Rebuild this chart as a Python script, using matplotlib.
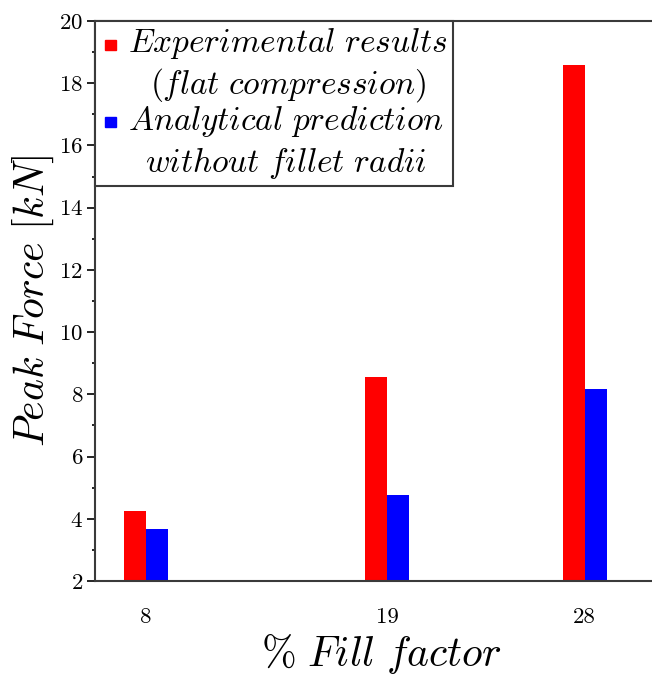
import matplotlib
matplotlib.use("Agg")
import matplotlib.pyplot as plt
from matplotlib.patches import Rectangle
from matplotlib.legend_handler import HandlerPatch

fill_factor = [8, 19, 28]
experimental = [4.25, 8.55, 18.6]
analytical = [3.66, 4.76, 8.16]
labels = [r'$Experimental\ results$' + '\n' + r'$(flat\ compression)$',
          r'$Analytical\ prediction$' + '\n' + r'$without\ fillet\ radii$']

plt.rcParams['font.family'] = 'serif'
plt.rcParams['font.serif'] = ['cmr10']
plt.rcParams['mathtext.fontset'] = 'cm'
plt.rcParams['axes.formatter.use_mathtext'] = True


def top_square(legend, orig_handle, xdescent, ydescent, width, height, fontsize):
    # put the marker next to the first line of a two-line label
    s = 0.31 * fontsize
    return Rectangle((0.15 * fontsize, 0.80 * fontsize), s * 1.1, s)


def main():
    fig = plt.figure(figsize=(6.52, 6.75), dpi=100)
    ax = fig.add_axes([0.1457, 0.1393, 0.877, 0.8296])
    w = 1.0
    ax.bar([x - w / 2 for x in fill_factor], experimental, width=w, color='#ff0000')
    ax.bar([x + w / 2 for x in fill_factor], analytical, width=w, color='#0000ff')
    ax.set_ylim(2, 20)
    ax.set_xlim(5.68, 31.74)
    ax.set_xticks(fill_factor)
    ax.set_xticklabels([str(x) for x in fill_factor])
    ax.set_yticks(range(2, 21, 2))
    ax.set_yticks(range(3, 20, 2), minor=True)
    ax.tick_params(axis='x', length=0, pad=19, labelsize=16.5)
    ax.tick_params(axis='y', which='major', length=5.5, width=1.2, pad=3, labelsize=16.5, direction='out')
    ax.tick_params(axis='y', which='minor', length=2.5, width=1.2, direction='out')
    for s in ['left', 'bottom', 'top']:
        ax.spines[s].set_linewidth(1.5)
        ax.spines[s].set_color('#3a3a3a')
    ax.spines['right'].set_visible(False)
    ax.set_xlabel(r'$\%\ Fill\ factor$', fontsize=30, labelpad=4)
    ax.set_ylabel(r'$Peak\ Force\ [kN]$', fontsize=30, labelpad=2)

    handles = [Rectangle((0, 0), 1, 1, color='#ff0000'), Rectangle((0, 0), 1, 1, color='#0000ff')]
    leg = ax.legend(handles, labels, loc='upper left', fontsize=24, borderaxespad=0, fancybox=False,
                    edgecolor='#3a3a3a', framealpha=1, handlelength=0.45, handletextpad=0.39,
                    labelspacing=0.0, borderpad=0.15,
                    handler_map={Rectangle: HandlerPatch(patch_func=top_square)})
    leg.get_frame().set_linewidth(1.5)
    for t in leg.get_texts():
        t.set_multialignment('center')
    fig.savefig('out.png', dpi=100)


if __name__ == '__main__':
    main()
